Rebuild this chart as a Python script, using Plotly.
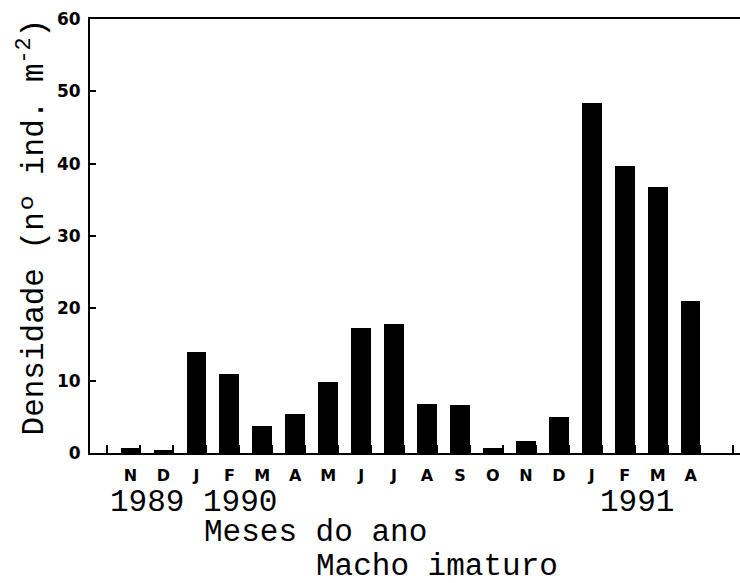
import plotly.graph_objects as go

# Monthly density of immature males, Nov 1989 – Apr 1991
positions = list(range(1, 19))
months = ["N", "D", "J", "F", "M", "A", "M", "J", "J", "A", "S", "O", "N", "D", "J", "F", "M", "A"]
density = [0.7, 0.4, 14.0, 10.9, 3.8, 5.4, 9.8, 17.3, 17.8, 6.8, 6.7, 0.7, 1.7, 5.0, 48.4, 39.7, 36.8, 21.0]
y_ticks = [0, 10, 20, 30, 40, 50, 60]
slot_ticks = [i + 0.3 for i in range(0, 20)]

x_range = [-0.23, 19.5]
mono = "Liberation Mono, Courier New, monospace"
heavy = dict(family="DejaVu Sans", size=16, color="black", weight="bold")
text_font = dict(family=mono, size=31, color="black")

fig = go.Figure()
fig.add_trace(go.Bar(
    x=positions, y=density, width=0.6,
    marker=dict(color="black", line=dict(width=0)),
    showlegend=False, hoverinfo="skip",
))

fig.update_layout(
    width=740, height=583,
    margin=dict(l=90, r=0, t=19, b=130),
    paper_bgcolor="white", plot_bgcolor="white",
    xaxis=dict(
        range=x_range, tickmode="array", tickvals=positions, ticktext=months,
        ticks="", showgrid=False, zeroline=False,
        showline=True, linecolor="black", linewidth=2, mirror=True,
        tickfont=heavy, ticklabelstandoff=7,
    ),
    xaxis2=dict(
        range=x_range, overlaying="x", anchor="y", side="bottom",
        tickmode="array", tickvals=slot_ticks, ticks="inside", ticklen=8,
        tickwidth=2, tickcolor="black", showticklabels=False,
        showgrid=False, zeroline=False, showline=False,
    ),
    yaxis=dict(
        range=[0, 60], tickmode="array", tickvals=y_ticks,
        ticks="inside", ticklen=6, tickwidth=2, tickcolor="black",
        showgrid=False, zeroline=False,
        showline=True, linecolor="black", linewidth=2,
        tickfont=dict(family="DejaVu Sans", size=17, color="black", weight="bold"),
        ticklabelstandoff=4,
    ),
    bargap=0,
)

# empty trace that switches on the secondary tick axis
fig.add_trace(go.Scatter(x=[None], y=[None], xaxis="x2", showlegend=False, hoverinfo="skip"))

fig.add_annotation(
    text="Densidade (nº ind. m<sup>-2</sup>)", textangle=-90,
    xref="paper", yref="paper", x=-0.089, y=0.52, xanchor="center", yanchor="middle",
    showarrow=False, font=text_font,
)
fig.add_annotation(
    text="1989 1990", xref="x", yref="paper", x=0.33, y=-0.113,
    xanchor="left", yanchor="middle", showarrow=False, font=text_font,
)
fig.add_annotation(
    text="1991", xref="x", yref="paper", x=15.2, y=-0.113,
    xanchor="left", yanchor="middle", showarrow=False, font=text_font,
)
fig.add_annotation(
    text="Meses do ano", xref="paper", yref="paper", x=(202 - 90) / 650, y=-0.184,
    xanchor="left", yanchor="middle", showarrow=False, font=text_font,
)
fig.add_annotation(
    text="Macho imaturo", xref="paper", yref="paper", x=(314 - 90) / 650, y=-0.262,
    xanchor="left", yanchor="middle", showarrow=False, font=text_font,
)

fig.write_html("out.html")
